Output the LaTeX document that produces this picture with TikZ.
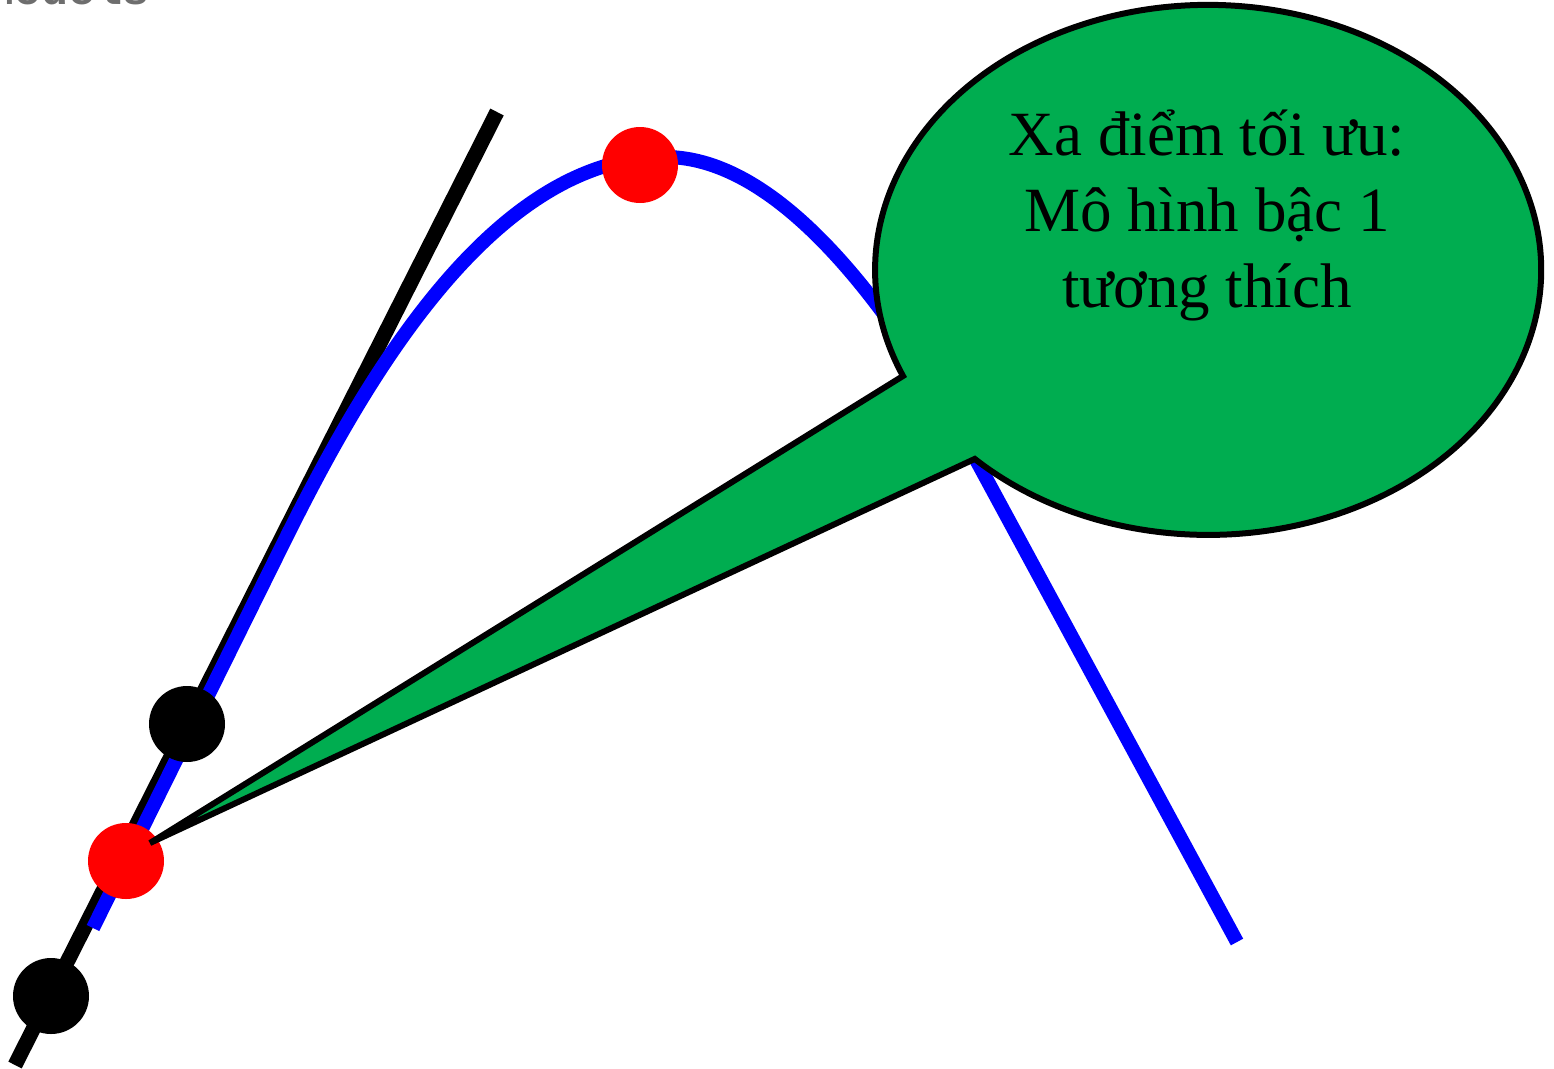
\documentclass[tikz,border=0pt]{standalone}
\usepackage{fontspec}
\setmainfont{Liberation Serif}
\newfontfamily\monofam{Liberation Mono}
\definecolor{calloutgreen}{RGB}{0,173,80}
\definecolor{capgray}{RGB}{110,110,110}
\tikzset{
  tangentline/.style={line width=15pt, black},
  curveline/.style={line width=14pt, blue},
  reddot/.style={circle, fill=red, minimum size=76pt, inner sep=0pt},
  blackdot/.style={circle, fill=black, minimum size=76pt, inner sep=0pt},
  calloutshape/.style={fill=calloutgreen, draw=black, line width=6pt, line join=miter},
  callouttext/.style={align=center, inner sep=0pt, font=\fontsize{63}{76}\selectfont},
}
\begin{document}
\begin{tikzpicture}[x=1pt,y=1pt]
\useasboundingbox[fill=white] (0,0) rectangle (1554,-1068);
% partial caption at top
\node[anchor=base east, inner sep=0pt, text=capgray, font=\monofam\bfseries\fontsize{45}{54}\selectfont] (cap) at (150,-5) {Models};
% tangent line
\coordinate (tl1) at (15,-1065);
\coordinate (tl2) at (497,-112);
\draw[tangentline] (tl1) -- (tl2);
% blue curve
\coordinate (c0) at (93,-928);
\coordinate (c1) at (280,-550);
\coordinate (cpeak) at (665,-157);
\coordinate (c2) at (980,-467);
\coordinate (c3) at (1237,-942);
\draw[curveline] (c0) -- (c1)
  .. controls (354,-400) and (485,-157) .. (cpeak)
  .. controls (780,-157) and (892.5,-307) .. (c2) -- (c3);
% dots
\node[blackdot] (b1) at (187,-724) {};
\node[blackdot] (b2) at (51,-996) {};
\node[reddot] (r1) at (126,-861) {};
\node[reddot] (r2) at (640,-165) {};
% callout
\coordinate (ctip) at (150,-843);
\coordinate (cA) at (903,-376);
\draw[calloutshape] (cA)
  arc[start angle=203.6, end angle=-134.5, x radius=333, y radius=265]
  -- (ctip) -- cycle;
\node[callouttext] (ctext) at (1207,-215) {Xa điểm tối ưu:\\Mô hình bậc 1\\tương thích};
\end{tikzpicture}
\end{document}
